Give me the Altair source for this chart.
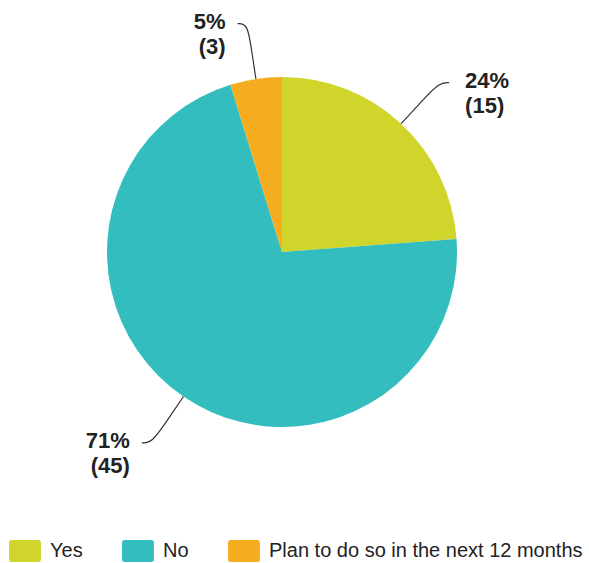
import altair as alt
import pandas as pd

categories = ["Yes", "No", "Plan to do so in the next 12 months"]
counts = [15, 45, 3]
colors = ["#CFD52B", "#33BDBF", "#F6AC1F"]

df = pd.DataFrame({"category": categories, "count": counts, "idx": list(range(len(categories)))})

CX, CY, R = 282, 252, 175
FONT = "Liberation Sans"

base = (
    alt.Chart(df)
    .transform_joinaggregate(total="sum(count)")
    .transform_window(cum="sum(count)", sort=[alt.SortField("idx")], frame=[None, 0])
    .transform_calculate(
        mid="(datum.cum - datum.count/2) / datum.total * 2 * PI",
        pct="round(datum.count / datum.total * 100)",
    )
    .transform_calculate(side="sin(datum.mid) >= 0 ? 1 : -1")
)

rect_path = ("M-1.2,-1L1.2,-1Q1.45,-1,1.45,-0.75L1.45,0.75Q1.45,1,1.2,1"
             "L-1.2,1Q-1.45,1,-1.45,0.75L-1.45,-0.75Q-1.45,-1,-1.2,-1Z")

pie = base.mark_arc(outerRadius=R, strokeWidth=0, x=CX, y=CY).encode(
    theta=alt.Theta("count:Q", stack=True),
    order=alt.Order("idx:Q"),
    color=alt.Color(
        "category:N",
        scale=alt.Scale(domain=categories, range=colors),
        legend=alt.Legend(
            title=None,
            orient="none",
            direction="horizontal",
            legendX=14,
            legendY=540,
            padding=0,
            symbolType=rect_path,
            symbolSize=484,
            symbolStrokeWidth=0,
            labelFont=FONT,
            labelFontSize=20,
            labelColor="#222222",
            labelOffset=14,
            labelLimit=0,
            columnPadding=39,
        ),
    ),
)

leaders = (
    base.transform_calculate(pts="[0, 1, 2, 3]")
    .transform_flatten(["pts"])
    .transform_calculate(r=f"datum.pts == 0 ? {R} : (datum.pts == 1 ? 205 : 231)")
    .transform_calculate(
        px=f"{CX} + datum.r * sin(datum.mid) + (datum.pts == 3 ? datum.side * 10 : 0)",
        py=f"{CY} - datum.r * cos(datum.mid)",
    )
    .mark_line(interpolate="basis", color="#333333", strokeWidth=1.2)
    .encode(
        x=alt.X("px:Q", scale=None, axis=None),
        y=alt.Y("py:Q", scale=None, axis=None),
        detail="category:N",
        order=alt.Order("pts:Q"),
    )
)

lab_base = base.transform_calculate(
    tx=f"{CX} + 231 * sin(datum.mid) + (datum.side > 0 ? 26 : -22)",
    ty=f"{CY} - 231 * cos(datum.mid) + 5",
    label="datum.pct + '%\\n(' + datum.count + ')'",
)

def labels(side, align):
    return (
        lab_base.transform_filter(f"datum.side == {side}")
        .mark_text(
            align=align,
            baseline="alphabetic",
            lineBreak="\n",
            lineHeight=25,
            font=FONT,
            fontSize=22,
            fontWeight="bold",
            color="#222222",
        )
        .encode(
            x=alt.X("tx:Q", scale=None, axis=None),
            y=alt.Y("ty:Q", scale=None, axis=None),
            text="label:N",
        )
    )

chart = (
    alt.layer(pie, leaders, labels(1, "left"), labels(-1, "right"))
    .properties(width=589, height=563, padding=0, autosize=alt.AutoSizeParams(type="none"))
    .configure_view(stroke=None)
)

chart.save("out.html", embed_options={"renderer": "svg", "actions": False})
